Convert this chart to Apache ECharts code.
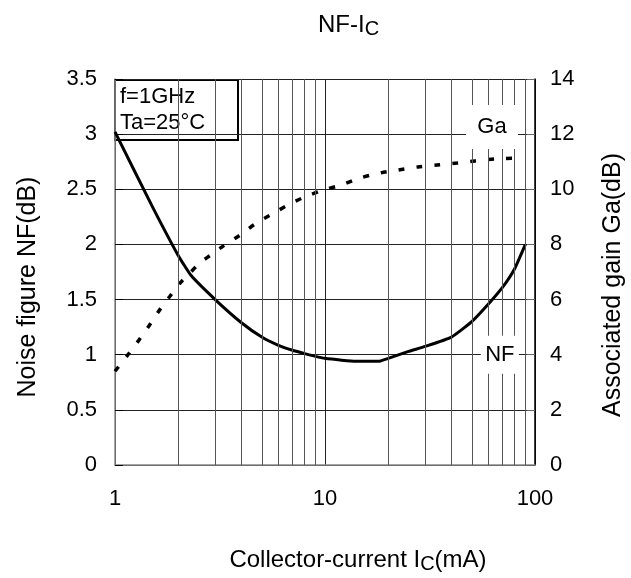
<!DOCTYPE html>
<html>
<head>
<meta charset="utf-8">
<title>NF-IC</title>
<script src="https://cdn.jsdelivr.net/npm/echarts@6/dist/echarts.min.js"></script>
<style>
  html, body { margin: 0; padding: 0; background: #fff; }
  #main { width: 631px; height: 578px; }
</style>
</head>
<body>
<div id="main"></div>
<script>
// collector current (mA) -> noise figure (dB), left axis
var nfCurrent = [1, 1.5, 2, 2.3, 3, 4, 5, 6, 7, 8, 9, 10, 12, 14, 18, 20, 25, 30, 40, 50, 60, 70, 80, 90];
var nfValue = [3.02, 2.35, 1.9, 1.72, 1.5, 1.29, 1.16, 1.085, 1.04, 1.01, 0.985, 0.967, 0.95, 0.94, 0.94, 0.967, 1.03, 1.075, 1.16, 1.3, 1.46, 1.61, 1.78, 2.0];

// collector current (mA) -> associated gain (dB), right axis
var gaCurrent = [1, 1.15, 1.3, 1.45, 1.62, 1.83, 2.04, 2.27, 2.54, 2.86, 3.27, 3.94, 4.64, 5.59, 6.67, 8, 9.8, 12, 14.7, 18.3, 22.3, 27.7, 34.2, 42.5, 51.8, 64.5, 84];
var gaValue = [3.4, 3.99, 4.53, 5.04, 5.59, 6.13, 6.6, 6.96, 7.33, 7.62, 7.94, 8.34, 8.74, 9.1, 9.43, 9.72, 9.97, 10.16, 10.41, 10.59, 10.7, 10.81, 10.88, 10.95, 11.03, 11.1, 11.13];

// log paper lines between the decades
var minorGrid = [2, 3, 4, 5, 6, 7, 8, 9, 20, 30, 40, 50, 60, 70, 80, 90];

// where the curve names sit (current, value on own axis)
var nfLabelAt = [68, 1.0];
var gaLabelAt = [62.4, 12.26];

var FONT = "'Liberation Sans', Arial, sans-serif";

function pairs(xs, ys) {
  return xs.map(function (x, i) { return [x, ys[i]]; });
}

var subRich = {
  n: { fontFamily: FONT, fontSize: 24, color: "#000", lineHeight: 26, verticalAlign: "top" },
  s: { fontFamily: FONT, fontSize: 20, color: "#000", lineHeight: 12, verticalAlign: "bottom" }
};

var chart = echarts.init(document.getElementById("main"));

chart.setOption({
  animation: false,
  backgroundColor: "#fff",
  title: {
    text: "{n|NF-I}{s|C}",
    left: 313,
    top: 8,
    textStyle: { fontWeight: "normal", rich: subRich }
  },
  grid: { left: 115, right: 96, top: 79, bottom: 113, outerBoundsMode: "none" },
  xAxis: {
    type: "log",
    logBase: 10,
    min: 1,
    max: 100,
    name: "{n|Collector-current I}{s|C}{n|(mA)}",
    nameLocation: "middle",
    nameGap: 83,
    nameTextStyle: { padding: [0, 0, 0, 66], rich: subRich },
    axisLine: { show: true, lineStyle: { color: "#888", width: 1.5 } },
    axisTick: { show: false },
    axisLabel: { fontFamily: FONT, fontSize: 22, color: "#000", margin: 23 },
    splitLine: { show: true, lineStyle: { color: "#222", width: 1 } }
  },
  yAxis: [
    {
      type: "value",
      position: "left",
      min: 0,
      max: 3.5,
      interval: 0.5,
      name: "Noise figure NF(dB)",
      nameLocation: "middle",
      nameGap: 74,
      nameTextStyle: { fontFamily: FONT, fontSize: 25, color: "#000", padding: [0, 30, 0, 0] },
      axisLine: { show: true, lineStyle: { color: "#888", width: 1.5 } },
      axisTick: { show: true, inside: true, length: 8, lineStyle: { color: "#000" } },
      axisLabel: { fontFamily: FONT, fontSize: 22, color: "#000", margin: 18 },
      splitLine: { show: true, lineStyle: { color: "#222", width: 1 } }
    },
    {
      type: "value",
      position: "right",
      min: 0,
      max: 14,
      interval: 2,
      name: "Associated gain Ga(dB)",
      nameLocation: "middle",
      nameGap: 66,
      nameTextStyle: { fontFamily: FONT, fontSize: 25, color: "#000", padding: [0, 26, 0, 0] },
      axisLine: { show: true, lineStyle: { color: "#000", width: 1.5 } },
      axisTick: { show: true, inside: true, length: 8, lineStyle: { color: "#666" } },
      axisLabel: { fontFamily: FONT, fontSize: 22, color: "#000", margin: 15 },
      splitLine: { show: false }
    }
  ],
  graphic: [
    {
      type: "group",
      left: 114,
      top: 79,
      z: 100,
      children: [
        {
          type: "rect",
          shape: { x: 0, y: 0, width: 123, height: 60 },
          style: { fill: "#fff", stroke: "#000", lineWidth: 2 }
        },
        {
          type: "text",
          x: 5,
          y: 6,
          style: { text: "f=1GHz", fontFamily: FONT, fontSize: 22, fill: "#000" }
        },
        {
          type: "text",
          x: 5,
          y: 32,
          style: { text: "Ta=25°C", fontFamily: FONT, fontSize: 22, fill: "#000" }
        }
      ]
    }
  ],
  series: [
    {
      // minor grid of the log axis
      name: "grid",
      type: "line",
      z: 1,
      data: [],
      silent: true,
      markLine: {
        silent: true,
        symbol: ["none", "none"],
        label: { show: false },
        lineStyle: { color: "#555", type: "solid", width: 1 },
        data: minorGrid.map(function (v) { return { xAxis: v }; })
      }
    },
    {
      name: "NF",
      type: "line",
      yAxisIndex: 0,
      z: 3,
      data: pairs(nfCurrent, nfValue),
      showSymbol: false,
      smooth: 0.15,
      lineStyle: { color: "#000", width: 3 },
      markPoint: {
        symbol: "rect",
        symbolSize: [38, 38],
        itemStyle: { color: "#fff" },
        label: { show: true, formatter: "NF", fontFamily: FONT, fontSize: 22, color: "#000" },
        data: [{ coord: nfLabelAt }]
      }
    },
    {
      name: "Ga",
      type: "line",
      yAxisIndex: 1,
      z: 3,
      data: pairs(gaCurrent, gaValue),
      showSymbol: false,
      smooth: 0.3,
      lineStyle: { color: "#000", width: 3.5, type: [6, 12] },
      markPoint: {
        symbol: "rect",
        symbolSize: [52, 44],
        itemStyle: { color: "#fff" },
        label: { show: true, formatter: "Ga", fontFamily: FONT, fontSize: 22, color: "#000" },
        data: [{ coord: gaLabelAt }]
      }
    }
  ]
});
</script>
</body>
</html>
